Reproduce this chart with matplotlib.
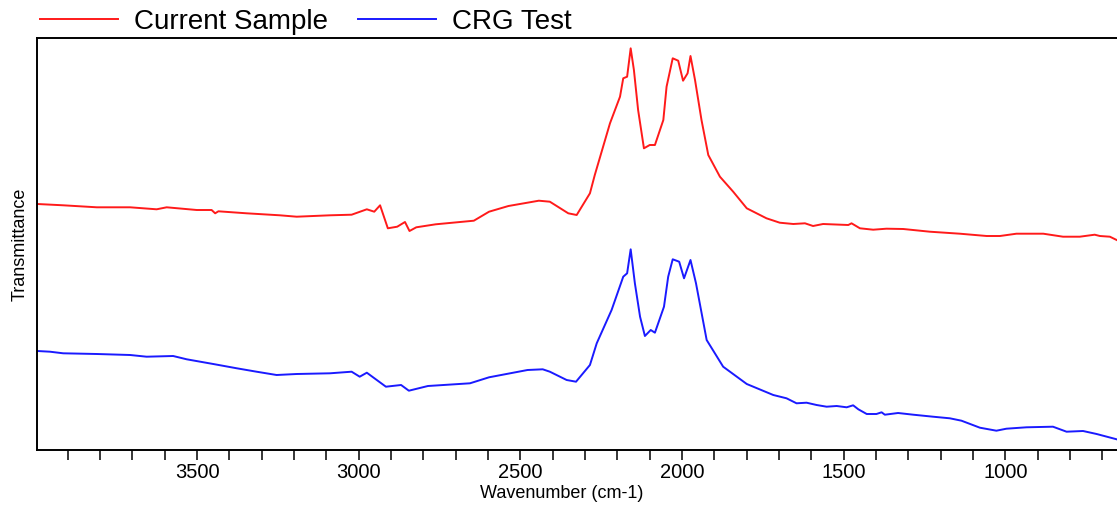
import matplotlib
matplotlib.use("Agg")
import matplotlib.pyplot as plt
from matplotlib.ticker import MultipleLocator
import numpy as np

plt.rcParams['font.family'] = ['Liberation Sans', 'DejaVu Sans']

# wavenumber (cm-1) and offset transmittance (arbitrary units)
sample_wn = [3994, 3914, 3810, 3707, 3625, 3594, 3501, 3455, 3444, 3434, 3347, 3244,
             3192, 3089, 3022, 2975, 2952, 2934, 2910, 2881, 2857, 2843, 2822, 2762,
             2644, 2597, 2537, 2443, 2409, 2352, 2326, 2285, 2270, 2223, 2192, 2182,
             2170, 2159, 2149, 2136, 2118, 2100, 2084, 2058, 2048, 2029, 2012, 1997,
             1983, 1974, 1960, 1940, 1919, 1883, 1842, 1800, 1739, 1698, 1656, 1620,
             1595, 1564, 1486, 1476, 1450, 1409, 1368, 1316, 1234, 1141, 1058, 1017,
             966, 883, 822, 770, 724, 708, 677, 656]
sample_t = [246, 244.7, 242.7, 242.7, 240.7, 242.7, 240, 240, 236.7, 238.7, 236.7, 234.7,
            233.3, 234.7, 235.3, 240.7, 238.3, 244.7, 221.7, 223.3, 228, 219, 222.7, 225.7,
            229.3, 238.3, 244, 249.3, 248.3, 236.7, 235, 256.7, 275, 326.7, 353.3, 371.7,
            373.3, 401.7, 380, 340, 301.7, 305, 305, 330, 363.3, 391.7, 389.3, 369.3,
            376.7, 394, 370, 330, 295, 273.3, 258.3, 241.7, 231.7, 227.3, 226, 226.7,
            224, 226, 225, 226.7, 221.7, 220.3, 221.3, 221, 218.3, 216.3, 214, 214,
            216.3, 216.3, 213.3, 213.3, 215.3, 214, 213.3, 210]

crg_wn = [3994, 3955, 3914, 3810, 3707, 3656, 3574, 3532, 3450, 3377, 3316, 3254,
          3192, 3089, 3022, 2997, 2975, 2916, 2869, 2845, 2786, 2656, 2597, 2478,
          2431, 2409, 2357, 2328, 2285, 2264, 2218, 2182, 2170, 2159, 2146, 2130,
          2115, 2097, 2084, 2056, 2043, 2029, 2009, 1994, 1974, 1957, 1924, 1873,
          1800, 1718, 1677, 1646, 1615, 1584, 1553, 1522, 1491, 1471, 1455, 1429,
          1399, 1383, 1373, 1332, 1285, 1224, 1172, 1136, 1079, 1028, 997, 935,
          853, 811, 760, 718, 656]
crg_t = [99, 98.3, 96.7, 96, 95, 93.3, 94, 90.7, 86, 81.7, 78.3, 75,
         76, 76.7, 78.3, 73.3, 77.3, 63.3, 65, 59.3, 64, 66.7, 72.7, 80,
         80.7, 78.3, 70, 68.3, 85, 106.7, 140, 173.3, 176.7, 200.7, 166.7, 133.3,
         114, 120, 117.3, 143.3, 173.3, 190.7, 188.3, 171.7, 190, 166.7, 110, 83.3,
         66, 55, 51.7, 46.7, 47.3, 45, 43.3, 44, 42.7, 44.7, 40.7, 36,
         36, 37.7, 35.3, 37, 35.3, 33.3, 31.7, 29.3, 22.3, 19.3, 21.3, 22.7,
         23.3, 18.3, 19, 16, 10.7]

fig = plt.figure(figsize=(11.17, 5.05), dpi=100)
ax = fig.add_axes([37 / 1117, 55 / 505, 1080 / 1117, 412 / 505])

ax.plot(sample_wn, sample_t, color='#ff1a1a', lw=1.4, label='Current Sample')
ax.plot(crg_wn, crg_t, color='#1a1aff', lw=1.4, label='CRG Test')

ax.set_xlim(3995, 655)
ax.set_ylim(0, 412)

ax.xaxis.set_major_locator(MultipleLocator(500))
ax.xaxis.set_minor_locator(MultipleLocator(100))
ax.tick_params(axis='x', which='both', direction='out', length=7.5, width=1.1,
               labelsize=14.5, pad=2)
ax.set_yticks([])

for side in ['left', 'bottom', 'top']:
    ax.spines[side].set_linewidth(1.4)
ax.spines['right'].set_visible(False)

ax.set_xlabel('Wavenumber (cm-1)', fontsize=13)
ax.xaxis.set_label_coords(525 / 1080, -0.085)
ax.set_ylabel('Transmittance', fontsize=13)
ax.yaxis.set_label_coords(-0.008, 0.5)

fig.legend(loc='center left', bbox_to_anchor=(40 / 1117, 1 - 22 / 505), ncol=2,
           frameon=False, fontsize=20, borderaxespad=0, borderpad=0,
           handlelength=2.8, handletextpad=0.58, columnspacing=1.08)

fig.savefig('out.png', dpi=100)
